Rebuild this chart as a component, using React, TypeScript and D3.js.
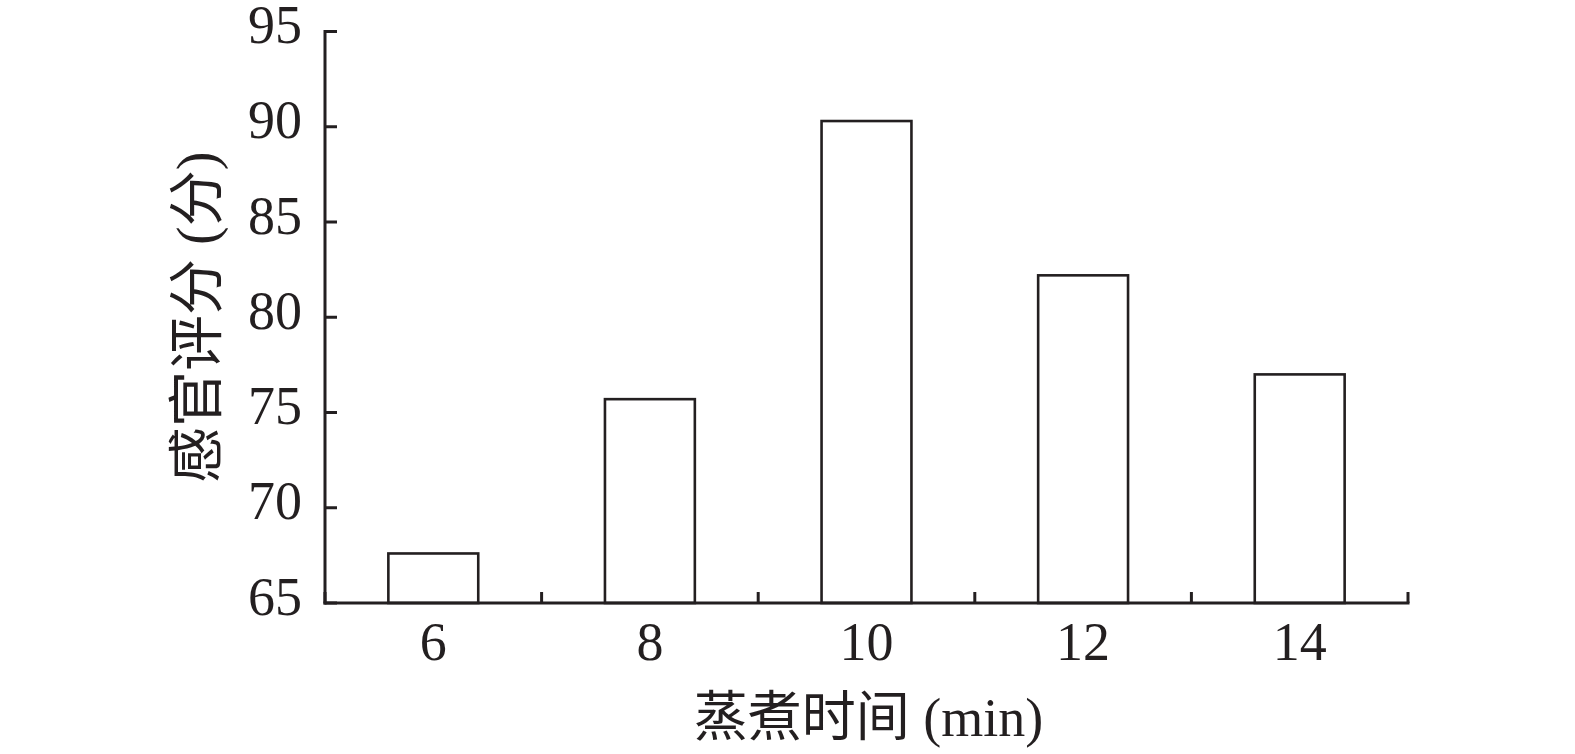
import React from "react";
import * as d3 from "d3";

const categories = ["6", "8", "10", "12", "14"];
const values = [67.6, 75.7, 90.3, 82.2, 77.0];
const yTicks = [65, 70, 75, 80, 85, 90, 95];
const xTitle = "蒸煮时间 (min)";
const yTitle = "感官评分 (分)";

const W = 1575;
const H = 754;
const left = 325;
const right = 1408;
const top = 31.5;
const bottom = 603;

export default function App() {
  const x = d3.scaleBand<string>().domain(categories).range([left, right]).paddingInner(0.585).paddingOuter(0.2925);
  const band = d3.scaleBand<string>().domain(categories).range([left, right]);
  const y = d3.scaleLinear().domain([65, 95]).range([bottom, top]);
  const font = "'Liberation Serif', 'Times New Roman', 'Noto Sans CJK SC', serif";
  const boundaries = categories.map((c) => band(c) as number).concat([right]);
  return (
    <svg width={W} height={H} style={{ position: "absolute", left: 0, top: 0, background: "#fff" }}>
      <rect x={0} y={0} width={W} height={H} fill="#fff" />
      {categories.map((c, i) => (
        <rect
          key={c}
          x={x(c)}
          y={y(values[i])}
          width={x.bandwidth()}
          height={bottom - y(values[i])}
          fill="#fff"
          stroke="#231f20"
          strokeWidth={2.6}
        />
      ))}
      {/* y axis */}
      <line x1={left} x2={left} y1={top - 1.5} y2={bottom + 1.5} stroke="#231f20" strokeWidth={3} />
      {yTicks.map((t) => (
        <g key={t}>
          <line x1={left} x2={left + 12} y1={y(t)} y2={y(t)} stroke="#231f20" strokeWidth={3} />
          <text x={left - 23} y={y(t) + 11.5} textAnchor="end" fontFamily={font} fontSize={54} fill="#231f20">
            {t}
          </text>
        </g>
      ))}
      {/* x axis */}
      <line x1={left - 1.5} x2={right + 1.5} y1={bottom} y2={bottom} stroke="#231f20" strokeWidth={3} />
      {boundaries.map((b, i) => (
        <line key={i} x1={b} x2={b} y1={bottom} y2={bottom - 11} stroke="#231f20" strokeWidth={3} />
      ))}
      {categories.map((c) => (
        <text key={c} x={(band(c) as number) + band.bandwidth() / 2} y={660} textAnchor="middle" fontFamily={font} fontSize={54} fill="#231f20">
          {c}
        </text>
      ))}
      <text x={(left + right) / 2 + 2} y={736} textAnchor="middle" fontFamily={font} fontSize={54} fill="#231f20">
        {xTitle}
      </text>
      <text
        transform={`translate(216, ${(top + bottom) / 2}) rotate(-90)`}
        textAnchor="middle"
        fontFamily={font}
        fontSize={56}
        fill="#231f20"
      >
        {yTitle}
      </text>
    </svg>
  );
}
